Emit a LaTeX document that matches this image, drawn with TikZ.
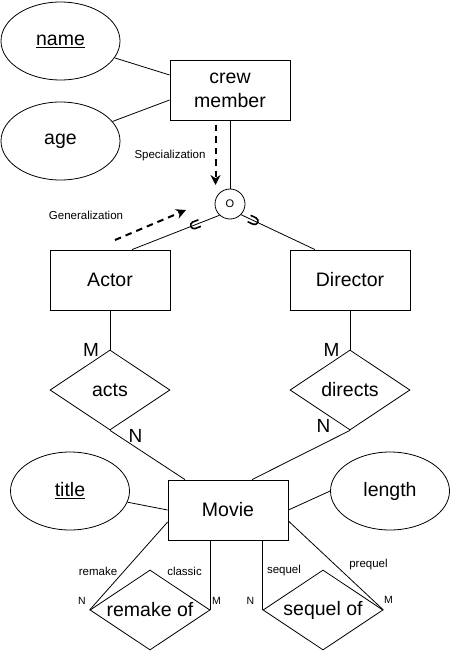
\documentclass[tikz,border=0pt]{standalone}
\usepackage{fontspec}
\setmainfont{Liberation Sans}
\usetikzlibrary{shapes.geometric,arrows.meta,calc}
\begin{document}
\begin{tikzpicture}[x=1pt,y=-1pt, line width=0.8pt,
 ent/.style={draw, rectangle, minimum width=120pt, minimum height=60pt, inner sep=0pt, font=\fontsize{19.5}{24}\selectfont, align=center},
 attr/.style={draw, ellipse, minimum width=119pt, minimum height=78pt, inner sep=0pt, font=\fontsize{19.5}{24}\selectfont},
 rel/.style={draw, diamond, minimum width=120pt, minimum height=80pt, inner sep=0pt, font=\fontsize{19.5}{24}\selectfont},
 card/.style={inner sep=0pt, font=\fontsize{19}{22}\selectfont},
 small/.style={inner sep=0pt, font=\fontsize{11.5}{13}\selectfont},
 tiny/.style={inner sep=0pt, font=\fontsize{10.5}{12}\selectfont},
 darrow/.style={dash pattern=on 6.5pt off 5pt, line width=2pt, -{Stealth[length=10pt,width=10pt]}},
 subsetmark/.style={line width=1.6pt},
]
\useasboundingbox (0,0) rectangle (451,652);

% entities
\node[ent] (crew) at (230,90) {crew\\member};
\node[ent] (actor) at (110,280) {Actor};
\node[ent] (director) at (350,280) {Director};
\node[ent] (movie) at (228,510) {Movie};

% attributes
\node[attr] (name) at (60.5,41) {\underline{name}};
\node[attr] (age) at (60.5,141) {age};
\node[attr] (title) at (70,491) {\underline{title}};
\node[attr] (length) at (390,491) {length};

% relationships
\node[rel] (acts) at (110,390) {\makebox[0pt]{acts}};
\node[rel] (directs) at (350,390) {\makebox[0pt]{directs}};
\node[rel] (remake) at (150,610) {\makebox[0pt]{remake of}};
\node[rel] (sequel) at (323,610) {\makebox[0pt]{sequel of}};

% ISA circle
\node[draw, circle, minimum size=30pt, inner sep=0pt, font=\fontsize{11}{12}\selectfont] (isa) at (230,204) {O};

% attribute links
\draw (name) -- ([yshift=15pt]crew.west);
\draw (age) -- ([yshift=-10pt]crew.west);
\draw (title) -- (movie.west);
\draw (length.west) -- (movie.east);

% specialization structure
\draw (crew) -- (isa);
\coordinate (a1) at ([xshift=22pt]actor.north);
\coordinate (d1) at ([xshift=-35pt]director.north);
\draw (isa.227) -- (a1);
\draw (isa.316) -- (d1);
\coordinate (s1) at ($(isa.227)!0.28!(a1)$);
\coordinate (s2) at ($(isa.316)!0.17!(d1)$);
\draw[subsetmark, shift={(s1)}, rotate=21] (5,3.5) -- (-1,3.5) arc[start angle=90, end angle=270, radius=3.5] -- (5,-3.5);
\draw[subsetmark, shift={(s2)}, rotate=155] (5,3.5) -- (-1,3.5) arc[start angle=90, end angle=270, radius=3.5] -- (5,-3.5);

% arrows
\coordinate (sp1) at (215.5,125);
\coordinate (sp2) at (215.5,185);
\draw[darrow] (sp1) -- (sp2);
\node[small] (splabel) at (170,156) {Specialization};
\coordinate (ge1) at (115,240);
\coordinate (ge2) at (186,210);
\draw[darrow] (ge1) -- (ge2);
\node[small] (gelabel) at (86,215) {Generalization};

% relationship links
\draw (actor) -- (acts);
\draw (director) -- (directs);
\draw (acts.south) -- ([xshift=-43pt]movie.north);
\draw (directs.south) -- ([xshift=24pt]movie.north);
\draw (remake.west) -- ([yshift=-12pt]movie.west);
\draw (remake.east) -- (remake.east |- movie.south);
\draw (sequel.west) -- (sequel.west |- movie.south);
\draw (sequel.east) -- ([yshift=-11pt]movie.east);

% cardinalities
\node[card] (m1) at (91,349.5) {M};
\node[card] (m2) at (331.5,349.5) {M};
\node[card] (n1) at (135.5,436) {N};
\node[card] (n2) at (323.5,426) {N};

% role labels
\node[small] (r1) at (98,571) {remake};
\node[small] (r2) at (184.5,571) {classic};
\node[small] (r3) at (284,571) {sequel};
\node[small] (r4) at (368.5,565) {prequel};
\node[tiny] (n3) at (82,601) {N};
\node[tiny] (m3) at (216.5,601) {M};
\node[tiny] (n4) at (250.5,600.5) {N};
\node[tiny] (m4) at (388.5,599.5) {M};
\end{tikzpicture}
\end{document}
